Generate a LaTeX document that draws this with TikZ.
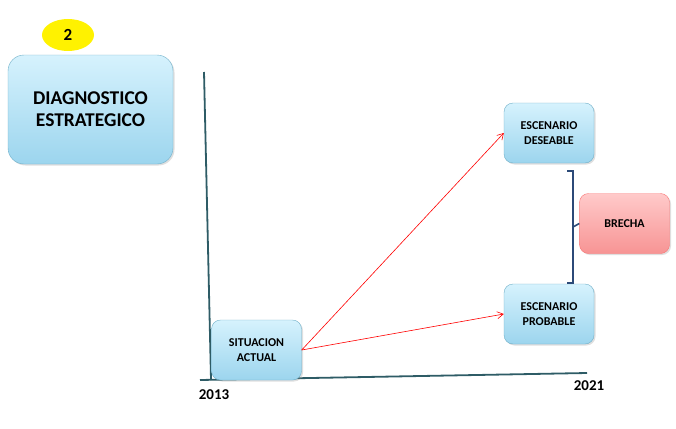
\documentclass[tikz,border=0pt]{standalone}
\usepackage{fontspec}
\setmainfont{Carlito}
\usetikzlibrary{arrows.meta, positioning, shadows, shapes.geometric}
\usepackage{xcolor}
\definecolor{celeste}{HTML}{D6F2FD}
\definecolor{celesteosc}{HTML}{9CD5EE}
\definecolor{bordeazul}{HTML}{6FAFC8}
\definecolor{rosa}{HTML}{FFCACA}
\definecolor{rosaosc}{HTML}{F79494}
\definecolor{ejecolor}{HTML}{2E5C66}
\definecolor{llave}{HTML}{2C4A78}

\begin{document}
\begin{tikzpicture}[x=1pt, y=-1pt,
              caja/.style={draw=bordeazul, rounded corners=9pt, top color=celeste, bottom color=celesteosc,
                           minimum width=90pt, minimum height=60pt, align=center, font=\bfseries\fontsize{12}{15}\selectfont,
                           drop shadow={opacity=0.25, shadow xshift=1.5pt, shadow yshift=-1.5pt}},
              flecha/.style={-{Straight Barb[length=6pt, width=7pt]}, red, line width=0.6pt},
              eje/.style={ejecolor, line width=1.8pt},
              anio/.style={font=\bfseries\fontsize{15}{18}\selectfont}
            ]
            \useasboundingbox (0,0) rectangle (676,428);

            % Titulo
            \node[ellipse, fill=yellow, minimum width=52pt, minimum height=32pt, inner sep=0pt,
                  font=\bfseries\fontsize{17}{20}\selectfont] (num) at (68,35) {2};
            \node[caja, rounded corners=16pt, minimum width=165pt, minimum height=109pt,
                  font=\bfseries\fontsize{19.5}{22}\selectfont] (diag) at (90.5,109.5) {DIAGNOSTICO\\ESTRATEGICO};

            % Ejes
            \coordinate (ytop) at (204,72);
            \coordinate (orig) at (211,380);
            \coordinate (xend) at (587,373);
            \draw[eje] (ytop) -- (orig);
            \draw[eje] (200,380) -- (xend);
            \node[anio] (a2013) at (214,395) {2013};
            \node[anio] (a2021) at (589,386) {2021};

            % Escenarios
            \node[caja] (actual) at (256.5,350) {SITUACION\\ACTUAL};
            \node[caja] (deseable) at (549,133) {ESCENARIO\\DESEABLE};
            \node[caja] (probable) at (549,314) {ESCENARIO\\PROBABLE};
            \node[caja, draw=rosaosc!80!red, top color=rosa, bottom color=rosaosc] (brecha) at (624.5,223.5) {BRECHA};

            % Flechas
            \draw[flecha] (actual.east) -- (deseable.west);
            \draw[flecha] (actual.east) -- (probable.west);

            % Llave
            \draw[llave, line width=1.6pt] (567,171) -- (573,171) -- (573,283) -- (567,283);
            \draw[llave, line width=1.6pt] (573,227) -- (brecha.west);

            \end{tikzpicture}
\end{document}
